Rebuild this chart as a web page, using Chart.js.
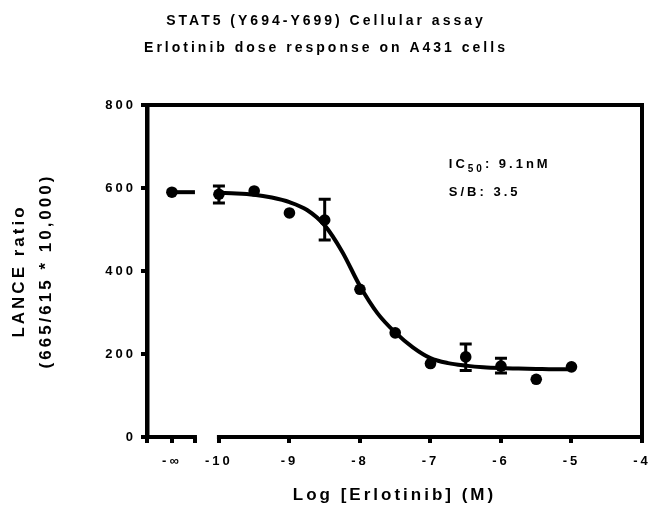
<!DOCTYPE html>
<html><head><meta charset="utf-8">
<script src="https://cdn.jsdelivr.net/npm/chart.js@4/dist/chart.umd.min.js"></script>
<style>html,body{margin:0;padding:0;background:#fff}</style>
</head><body>
<canvas id="c" width="652" height="507"></canvas>
<script>
// ---- data ----
const chartTitle = ['STAT5 (Y694-Y699) Cellular assay', 'Erlotinib dose response on A431 cells'];
const xAxisTitle = 'Log [Erlotinib] (M)';
const yAxisTitle = ['LANCE ratio', '(665/615 * 10,000)'];
const logDose = [-10, -9.5, -9, -8.5, -8, -7.5, -7, -6.5, -6, -5.5, -5];
const lanceRatio = [585, 593, 540, 523, 356, 251, 177, 193, 171, 139, 169];
const errLow  = [564, null, null, 475, null, null, null, 160, 154, null, null];
const errHigh = [605, null, null, 573, null, null, null, 224, 190, null, null];
const noDrugRatio = 590;
const fitLogDose = [-10, -9.75, -9.5, -9.25, -9, -8.75, -8.5, -8.25, -8, -7.75, -7.5, -7.25, -7, -6.75, -6.5, -6.25, -6, -5.75, -5.5, -5.25, -5];
const fitRatio   = [588, 587, 584, 577, 566, 547, 510, 446, 364, 298, 252, 216, 190, 178, 172, 168, 166, 165, 164, 163, 163];
const yTickValues = [0, 200, 400, 600, 800];
const xTickValues = [-10, -9, -8, -7, -6, -5, -4];
const xTickLabels = ['-10', '-9', '-8', '-7', '-6', '-5', '-4'];
const zeroDoseLabel = '-∞';
const ic50Label = ['IC', '50', ': 9.1nM'];
const sbLabel = 'S/B: 3.5';

// ---- axis break layout (virtual x positions of the left segment) ----
const AXIS_MIN = -11.02, ZERO_POS = -10.667, BREAK_END = -10.34, AXIS_MAX = -4;
const allTickVals = [AXIS_MIN, ZERO_POS, BREAK_END, ...xTickValues];
const allTickLabels = ['', zeroDoseLabel, '', ...xTickLabels];

const FONT = "'Liberation Sans', Arial, Helvetica, sans-serif";
Chart.defaults.font.family = FONT;
Chart.defaults.font.weight = 'bold';
Chart.defaults.color = '#000';

const spacingPlugin = {
  id: 'spacing',
  beforeUpdate(c){ c.ctx.letterSpacing = '3px'; },
  beforeLayout(c){ c.ctx.letterSpacing = '3px'; },
  beforeDraw(c){ c.ctx.letterSpacing = '3px'; }
};

const extrasPlugin = {
  id: 'extras',
  afterDatasetsDraw(chart) {
    const {ctx, chartArea: a, scales: {x, y}} = chart;
    ctx.save();
    ctx.strokeStyle = '#000';
    ctx.lineCap = 'butt';
    ctx.lineJoin = 'miter';
    ctx.lineWidth = 4;
    const yb = a.bottom;
    ctx.beginPath();
    ctx.moveTo(x.getPixelForValue(AXIS_MIN) - 2, yb);
    ctx.lineTo(x.getPixelForValue(BREAK_END) + 2, yb);
    ctx.moveTo(x.getPixelForValue(-10) - 2, yb);
    ctx.lineTo(x.getPixelForValue(AXIS_MAX) + 2, yb);
    ctx.stroke();
    ctx.beginPath();
    ctx.moveTo(a.left, a.top);
    ctx.lineTo(a.right, a.top);
    ctx.lineTo(a.right, a.bottom);
    ctx.stroke();
    // error bars
    ctx.lineWidth = 3;
    logDose.forEach((d, i) => {
      if (errLow[i] == null) return;
      const px = x.getPixelForValue(d);
      const yl = y.getPixelForValue(errLow[i]);
      const yh = y.getPixelForValue(errHigh[i]);
      ctx.beginPath();
      ctx.moveTo(px, yl); ctx.lineTo(px, yh);
      ctx.moveTo(px - 6, yl); ctx.lineTo(px + 6, yl);
      ctx.moveTo(px - 6, yh); ctx.lineTo(px + 6, yh);
      ctx.stroke();
    });
    // annotation
    ctx.fillStyle = '#000';
    ctx.textBaseline = 'alphabetic';
    ctx.textAlign = 'left';
    const ax = x.getPixelForValue(-6.74);
    const b1 = y.getPixelForValue(648);
    const b2 = y.getPixelForValue(581);
    ctx.font = 'bold 13px ' + FONT;
    let cx = ax;
    ctx.fillText(ic50Label[0], cx, b1);
    cx += ctx.measureText(ic50Label[0]).width;
    ctx.font = 'bold 10px ' + FONT;
    ctx.fillText(ic50Label[1], cx, b1 + 4);
    cx += ctx.measureText(ic50Label[1]).width;
    ctx.font = 'bold 13px ' + FONT;
    ctx.fillText(ic50Label[2], cx, b1);
    ctx.fillText(sbLabel, ax, b2);
    ctx.restore();
  }
};

new Chart(document.getElementById('c'), {
  type: 'scatter',
  data: {
    datasets: [
      {
        label: 'data',
        data: [{x: ZERO_POS, y: noDrugRatio}, ...logDose.map((d, i) => ({x: d, y: lanceRatio[i]}))],
        backgroundColor: '#000', borderWidth: 0, pointRadius: 5.8, showLine: false
      },
      {
        label: 'fit',
        data: fitLogDose.map((d, i) => ({x: d, y: fitRatio[i]})),
        showLine: true, pointRadius: 0, borderColor: '#000', borderWidth: 4,
        cubicInterpolationMode: 'monotone', fill: false
      },
      {
        label: 'fit0',
        data: [{x: ZERO_POS, y: noDrugRatio}, {x: BREAK_END, y: noDrugRatio}],
        showLine: true, pointRadius: 0, borderColor: '#000', borderWidth: 4, fill: false
      }
    ]
  },
  options: {
    responsive: false,
    animation: false,
    layout: {padding: {left: 0, right: 0, top: 0, bottom: 0}},
    plugins: {
      legend: {display: false},
      tooltip: {enabled: false},
      title: {
        display: true, text: chartTitle, color: '#000',
        font: {size: 14, weight: 'bold', lineHeight: 1.93},
        padding: {top: 7.5, bottom: 43.5}
      }
    },
    scales: {
      x: {
        type: 'linear', min: AXIS_MIN, max: AXIS_MAX,
        afterBuildTicks(s) { s.ticks = allTickVals.map(v => ({value: v})); },
        afterFit(s) { s.height = 70; s.paddingRight = 10; s.paddingLeft = 0; },
        ticks: {
          autoSkip: false, maxRotation: 0, padding: 11, color: '#000',
          font: {size: 13, weight: 'bold'},
          callback: (v, i) => allTickLabels[i]
        },
        grid: {drawOnChartArea: false, drawTicks: true, tickLength: 6, tickWidth: 4, tickColor: '#000', color: '#000', lineWidth: 4},
        border: {display: false},
        title: {display: true, text: xAxisTitle, color: '#000', font: {size: 17, weight: 'bold', lineHeight: 1.2}, padding: {top: 0, bottom: 1}}
      },
      y: {
        min: 0, max: 800,
        afterBuildTicks(s) { s.ticks = yTickValues.map(v => ({value: v})); },
        afterFit(s) { s.width = 147; s.paddingTop = 0; s.paddingBottom = 0; },
        ticks: {padding: 5, color: '#000', font: {size: 13, weight: 'bold'}},
        grid: {drawOnChartArea: false, drawTicks: true, tickLength: 6, tickWidth: 4, tickColor: '#000', color: '#000', lineWidth: 4},
        border: {display: true, width: 4.5, color: '#000'},
        title: {display: true, text: yAxisTitle, color: '#000', font: {size: 17, weight: 'bold', lineHeight: 1.57}, padding: {top: 6.3, bottom: 0}}
      }
    }
  },
  plugins: [spacingPlugin, extrasPlugin]
});
</script>
</body></html>
